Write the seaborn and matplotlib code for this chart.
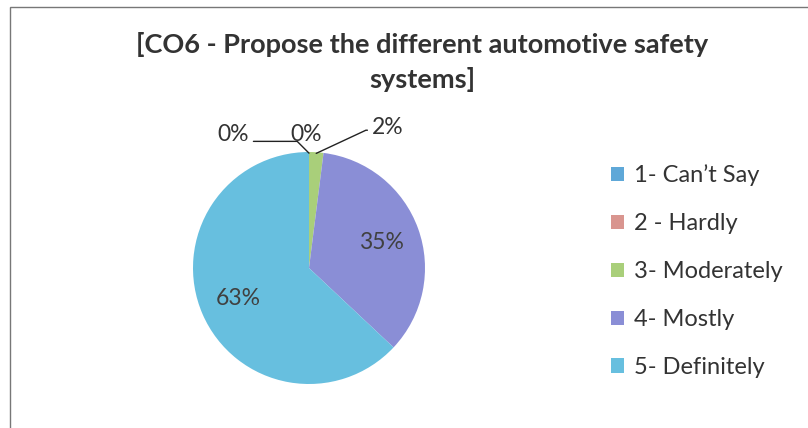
import matplotlib
matplotlib.use("Agg")
import matplotlib.pyplot as plt
import seaborn as sns
import numpy as np
from matplotlib.patches import Rectangle

categories = ["1- Can\u2019t Say", "2 - Hardly", "3- Moderately", "4- Mostly", "5- Definitely"]
values = [0, 0, 2, 35, 63]
pct_labels = ["0%", "0%", "2%", "35%", "63%"]
colors = ["#5fa8d8", "#d9958f", "#a9cf7a", "#8a8ed6", "#67bfdf"]
title = "[CO6 - Propose the different automotive safety\nsystems]"

sns.set_style("white")
plt.rcParams["font.family"] = ["Lato", "DejaVu Sans"]
txt = "#333333"

W, H = 808, 428
fig = plt.figure(figsize=(W / 100, H / 100), dpi=100)
fig.patch.set_facecolor("white")

# frame of the chart area
fig.add_artist(Rectangle((10 / W, -0.02), (W + 20) / W, (H - 7) / H + 0.02,
                         transform=fig.transFigure, fill=False,
                         edgecolor="#777777", lw=1.0))

cx, cy, r = 309, 268, 116
ax = fig.add_axes([(cx - r) / W, (H - cy - r) / H, 2 * r / W, 2 * r / H])
wedges, _ = ax.pie(values, colors=colors, startangle=90, counterclock=False,
                   radius=1, wedgeprops=dict(linewidth=0))
ax.set_xlim(-1, 1)
ax.set_ylim(-1, 1)
ax.set_aspect("auto")
ax.axis("off")

# outside labels for the small slices
outside = {
    0: dict(pos=(-0.655, 1.155), relpos=(1.0, 0.15), conn="angle,angleA=0,angleB=135,rad=0"),
    1: dict(pos=(-0.026, 1.155), relpos=None, conn=None),
    2: dict(pos=(0.68, 1.215), relpos=(0.0, 0.35), conn="angle,angleA=180,angleB=25,rad=0"),
}
for i, w in enumerate(wedges):
    mid = np.deg2rad((w.theta1 + w.theta2) / 2)
    if i in outside:
        o = outside[i]
        px, py = np.cos(mid), np.sin(mid)
        arrow = None
        if o["conn"] is not None:
            arrow = dict(arrowstyle="-", color="#222222", lw=1.0,
                         shrinkA=1, shrinkB=0, relpos=o["relpos"],
                         connectionstyle=o["conn"])
        ax.annotate(pct_labels[i], xy=(px * 0.99, py * 0.99), xytext=o["pos"],
                    ha="center", va="center", fontsize=16.5, color=txt,
                    annotation_clip=False, arrowprops=arrow)
    else:
        ax.text(0.66 * np.cos(mid), 0.66 * np.sin(mid), pct_labels[i],
                ha="center", va="center", fontsize=16.5, color="#404040")

fig.text(422 / W, 1 - 62 / H, title, ha="center", va="center",
         fontsize=19.5, fontweight="bold", color=txt, linespacing=1.45)

handles = [Rectangle((0, 0), 1, 1, facecolor=c, edgecolor="none") for c in colors]
leg = fig.legend(handles, categories, loc="upper left",
                 bbox_to_anchor=(602 / W, 1 - 155 / H), frameon=False,
                 fontsize=17, handlelength=0.55, handleheight=0.55,
                 handletextpad=0.4, labelspacing=1.14, borderaxespad=0)
for t in leg.get_texts():
    t.set_color(txt)

fig.savefig("out.png", dpi=100, facecolor="white")
